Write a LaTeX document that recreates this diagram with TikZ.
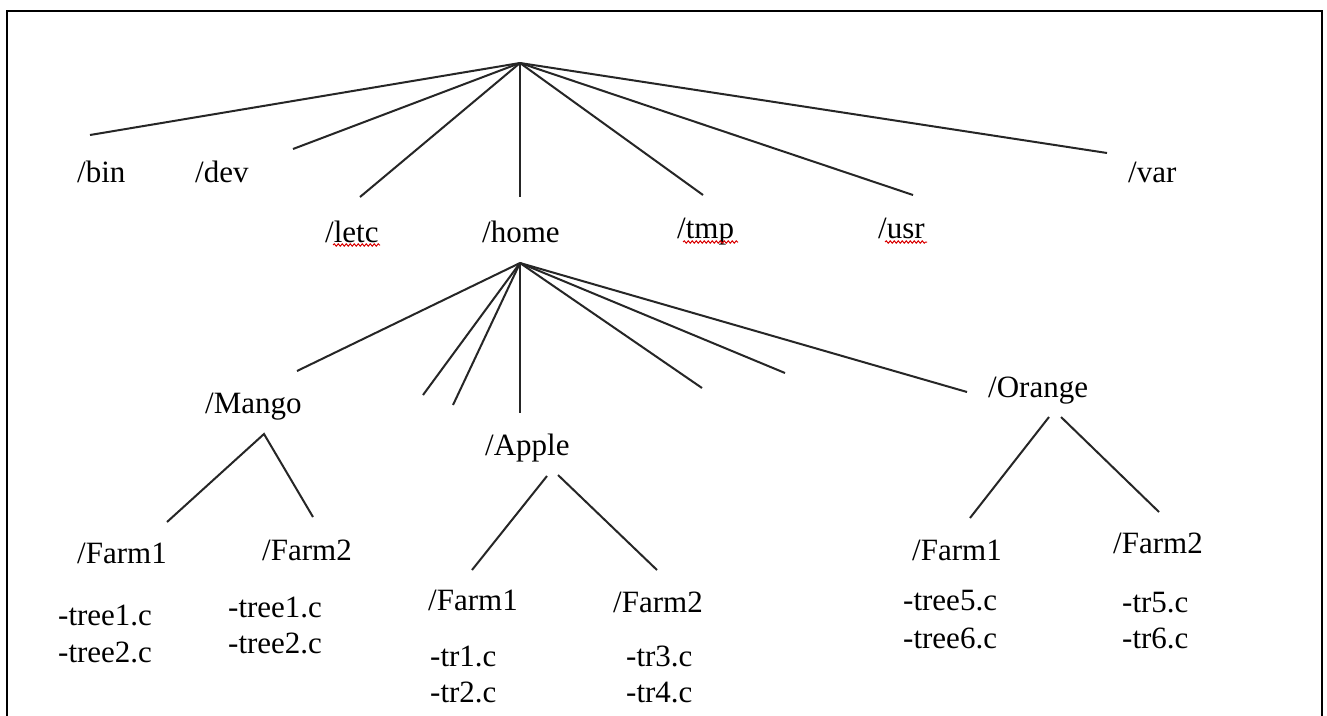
\documentclass[tikz,border=0pt]{standalone}
\usepackage{fontspec}
\newfontfamily\tnr{Liberation Serif}
\usetikzlibrary{decorations.pathmorphing}
\begin{document}
\begin{tikzpicture}[x=1pt,y=-1pt,
  lbl/.style={inner sep=0pt, anchor=base west, font=\tnr\fontsize{31}{37}\selectfont, text=black},
  edge/.style={line width=2pt, draw=black!85},
  spell/.style={draw=red!85!black, line width=1pt, decorate,
    decoration={snake, amplitude=1.2pt, segment length=4pt}}]
\useasboundingbox (0,0) rectangle (1327,715);
\fill[white] (0,0) rectangle (1327,715);
% frame (open at the bottom)
\draw[line width=2.8pt] (7,725) -- (7,11) -- (1322,11) -- (1322,725);

% top level directories
\node[lbl] (bin)  at (77,182)   {/bin};
\node[lbl] (dev)  at (195,182)  {/dev};
\node[lbl] (etc)  at (325,242)  {/letc};
\node[lbl] (home) at (482,242)  {/home};
\node[lbl] (tmp)  at (677,238)  {/tmp};
\node[lbl] (usr)  at (878,238)  {/usr};
\node[lbl] (var)  at (1128,182) {/var};

\coordinate (root) at (520,63);
\coordinate (binE) at (90,135);
\coordinate (devE) at (293,149);
\coordinate (etcE) at (360,197);
\coordinate (homeE) at (520,197);
\coordinate (tmpE) at (703,195);
\coordinate (usrE) at (913,195);
\coordinate (varE) at (1107,153);
\foreach \e in {binE,devE,etcE,homeE,tmpE,usrE,varE}
  \draw[edge] (root) -- (\e);

% spelling marks under words
\draw[spell] (333,245) -- (380,245);
\draw[spell] (683,242) -- (738,242);
\draw[spell] (885,242) -- (927,242);

% /home subdirectories
\node[lbl] (mango)  at (205,413) {/Mango};
\node[lbl] (apple)  at (485,455) {/Apple};
\node[lbl] (orange) at (988,397) {/Orange};

\coordinate (hub) at (520,263);
\coordinate (mangoE) at (297,371);
\coordinate (hB) at (423,395);
\coordinate (hC) at (453,405);
\coordinate (appleE) at (520,413);
\coordinate (hE) at (702,388);
\coordinate (hF) at (785,373);
\coordinate (orangeE) at (967,392);
\foreach \e in {mangoE,hB,hC,appleE,hE,hF,orangeE}
  \draw[edge] (hub) -- (\e);

% /Mango
\coordinate (mApex) at (264,434);
\coordinate (mf1E) at (167,522);
\coordinate (mf2E) at (313,517);
\draw[edge] (mf1E) -- (mApex) -- (mf2E);
\node[lbl] (mf1) at (77,563)  {/Farm1};
\node[lbl] (mf2) at (262,560) {/Farm2};
\node[lbl] (mf1a) at (58,625)  {-tree1.c};
\node[lbl] (mf1b) at (58,662)  {-tree2.c};
\node[lbl] (mf2a) at (228,617) {-tree1.c};
\node[lbl] (mf2b) at (228,653) {-tree2.c};

% /Apple
\coordinate (a1S) at (547,476);
\coordinate (a1E) at (472,570);
\coordinate (a2S) at (558,475);
\coordinate (a2E) at (657,570);
\draw[edge] (a1S) -- (a1E);
\draw[edge] (a2S) -- (a2E);
\node[lbl] (af1) at (428,610) {/Farm1};
\node[lbl] (af2) at (613,612) {/Farm2};
\node[lbl] (af1a) at (430,666) {-tr1.c};
\node[lbl] (af1b) at (430,702) {-tr2.c};
\node[lbl] (af2a) at (626,666) {-tr3.c};
\node[lbl] (af2b) at (626,702) {-tr4.c};

% /Orange
\coordinate (o1S) at (1049,417);
\coordinate (o1E) at (970,518);
\coordinate (o2S) at (1061,417);
\coordinate (o2E) at (1159,512);
\draw[edge] (o1S) -- (o1E);
\draw[edge] (o2S) -- (o2E);
\node[lbl] (of1) at (912,560)  {/Farm1};
\node[lbl] (of2) at (1113,553) {/Farm2};
\node[lbl] (of1a) at (903,610)  {-tree5.c};
\node[lbl] (of1b) at (903,648)  {-tree6.c};
\node[lbl] (of2a) at (1122,612) {-tr5.c};
\node[lbl] (of2b) at (1122,648) {-tr6.c};
\end{tikzpicture}
\end{document}
